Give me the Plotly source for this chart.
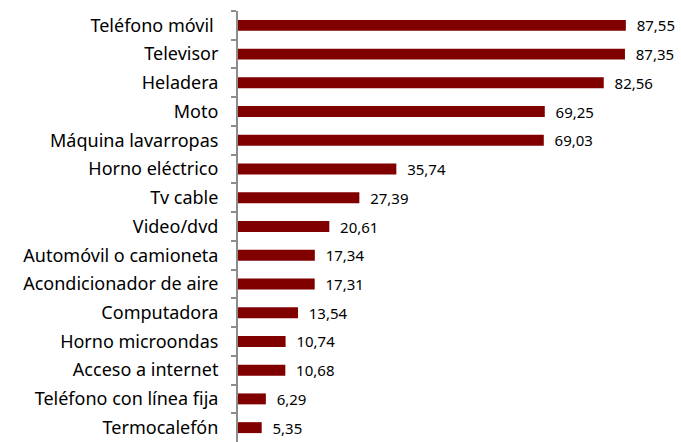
import plotly.graph_objects as go

categorias = ["Teléfono móvil ", "Televisor", "Heladera", "Moto", "Máquina lavarropas",
              "Horno eléctrico", "Tv cable", "Video/dvd", "Automóvil o camioneta",
              "Acondicionador de aire", "Computadora", "Horno microondas",
              "Acceso a internet", "Teléfono con línea fija", "Termocalefón"]
valores = [87.55, 87.35, 82.56, 69.25, 69.03, 35.74, 27.39, 20.61, 17.34, 17.31,
           13.54, 10.74, 10.68, 6.29, 5.35]

fig = go.Figure(go.Bar(
    y=categorias, x=valores, orientation="h",
    marker=dict(color="#800000", line=dict(width=0)),
    width=0.38,
    texttemplate="\u00a0\u00a0%{x:.2f}", textposition="outside",
    constraintext="none",
    textfont=dict(family="Noto Sans", size=15, color="#000000"),
    cliponaxis=False,
    hoverinfo="skip",
))

fig.update_layout(
    width=681, height=442,
    margin=dict(l=238, r=0, t=11, b=0),
    paper_bgcolor="white", plot_bgcolor="white",
    separators=",.",
    showlegend=False,
    xaxis=dict(range=[0, 100], visible=False),
    yaxis=dict(autorange="reversed", showline=True, linecolor="#8c8c8c", linewidth=2,
               ticks="outside", tickson="boundaries", ticklen=5, tickcolor="#8c8c8c",
               tickwidth=2, showgrid=False, automargin=False, ticklabelstandoff=14,
               tickfont=dict(family="Noto Sans", size=18, color="#000000")),
    bargap=0.62,
)

fig.write_html(
    "out.html",
    config={"displayModeBar": False},
    post_script="document.body.style.margin='0';document.body.style.overflow='hidden';",
)
